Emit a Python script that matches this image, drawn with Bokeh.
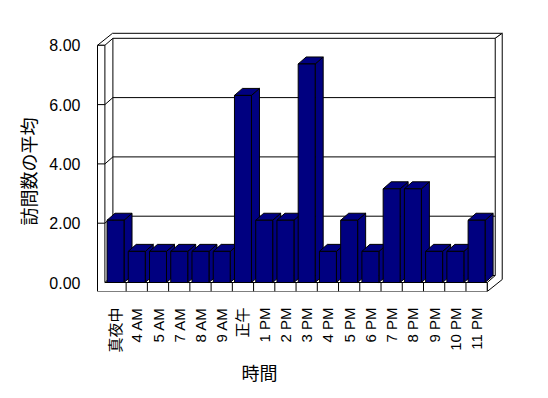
import numpy as np
from math import pi
from bokeh.plotting import figure
from bokeh.models import Range1d, FixedTicker, PrintfTickFormatter, Title
from bokeh.embed import file_html
from bokeh.resources import INLINE

# ---- data ----
categories = ["真夜中", "4 AM", "5 AM", "7 AM", "8 AM", "9 AM", "正午", "1 PM", "2 PM",
              "3 PM", "4 PM", "5 PM", "6 PM", "7 PM", "8 PM", "9 PM", "10 PM", "11 PM"]
visits = [2.1, 1.05, 1.05, 1.05, 1.05, 1.05, 6.31, 2.1, 2.1,
          7.37, 1.05, 2.1, 1.05, 3.16, 3.16, 1.05, 1.05, 2.1]
y_ticks = [0, 2, 4, 6, 8]
x_title = "時間"
y_title = "訪問数の平均"

# ---- geometry (pixels per data unit, 3-D offsets) ----
PX_X = 21.24
PX_Y = 29.65
DX, DY = 8 / PX_X, 7 / PX_Y        # depth of the plot box
TX, TY = 7 / PX_X, 5 / PX_Y        # back wall thickness
WL = 7.4 / PX_X                    # left wall thickness
FT = 9 / PX_Y                      # floor thickness
n = len(categories)
L, R = -0.5, n - 0.5
TOP, BOT = y_ticks[-1], -FT
XL = L - WL
BAR_W = 0.8
NAVY = "#000080"
FONT = "Liberation Sans, Noto Sans CJK JP"

p = figure(width=548, height=398, output_backend="svg", toolbar_location=None,
           x_range=Range1d(L - 14.4 / PX_X, L + 405.6 / PX_X),
           y_range=Range1d(-9 / PX_Y, 252 / PX_Y),
           min_border_left=90, min_border_right=38, min_border_top=30, min_border_bottom=107)
p.outline_line_color = None
p.grid.visible = False
p.background_fill_color = "white"
p.border_fill_color = "white"

# ---- walls and floor ----
p.patch([XL, L, L + DX, R + DX, R + DX + TX, XL + DX + TX],
        [TOP, TOP, TOP + DY, TOP + DY, TOP + DY + TY, TOP + DY + TY],
        fill_color="white", line_color="black", line_width=1)
p.patch([R + DX, R + DX + TX, R + DX + TX, R, R, R + DX],
        [TOP + DY, TOP + DY + TY, BOT + DY + TY, BOT, 0, DY],
        fill_color="white", line_color="black", line_width=1)
p.patch([XL, L, L, R, R, XL], [TOP, TOP, 0, 0, BOT, BOT],
        fill_color="white", line_color="black", line_width=1)

gv = np.array([v for v in y_ticks if v != TOP], dtype=float)
p.segment(x0=[L + DX] * len(gv), y0=gv + DY, x1=[R + DX] * len(gv), y1=gv + DY,
          line_color="black", line_width=1)
p.segment(x0=[L] * len(gv), y0=gv, x1=[L + DX] * len(gv), y1=gv + DY,
          line_color="black", line_width=1)
gv2 = gv[gv > 0]
p.segment(x0=[XL] * len(gv2), y0=gv2, x1=[L] * len(gv2), y1=gv2,
          line_color="black", line_width=1)
p.segment(x0=[L + DX], y0=[DY], x1=[L + DX], y1=[TOP + DY], line_color="black", line_width=1)
kb = np.arange(1, n) - 0.5
p.segment(x0=kb, y0=[BOT] * len(kb), x1=kb, y1=[0] * len(kb), line_color="black", line_width=1)

# ---- 3-D bars (side, top, front per bar, left to right) ----
xs, ys = [], []
for i, v in enumerate(visits):
    l, r = i - BAR_W / 2, i + BAR_W / 2
    xs.append([r, r + DX, r + DX, r]); ys.append([0, DY, v + DY, v])
    xs.append([l, r, r + DX, l + DX]); ys.append([v, v, v + DY, v + DY])
    xs.append([l, r, r, l]); ys.append([0, 0, v, v])
p.patches(xs, ys, fill_color=NAVY, line_color="black", line_width=1)

# ---- axes ----
yax = p.yaxis[0]
yax.ticker = FixedTicker(ticks=y_ticks)
yax.formatter = PrintfTickFormatter(format="%.2f")
yax.axis_line_color = None
yax.major_tick_line_color = None
yax.minor_tick_line_color = None
yax.major_label_standoff = 4
yax.major_label_text_font = FONT
yax.major_label_text_font_size = "16px"
yax.major_label_text_color = "black"

xax = p.xaxis[0]
xax.ticker = FixedTicker(ticks=list(range(n)))
xax.major_label_overrides = {i: c for i, c in enumerate(categories)}
xax.major_label_orientation = pi / 2
xax.axis_line_color = None
xax.major_tick_line_color = None
xax.minor_tick_line_color = None
xax.major_label_standoff = 10
xax.major_label_text_font = FONT
xax.major_label_text_font_size = "15px"
xax.major_label_text_color = "black"

p.add_layout(Title(text=x_title, align="left", offset=151, standoff=13,
                   text_font=FONT, text_font_size="18px", text_font_style="normal",
                   text_color="black"), "below")
p.add_layout(Title(text=y_title, align="left", offset=66, standoff=14,
                   text_font=FONT, text_font_size="18px", text_font_style="normal",
                   text_color="black"), "left")

open("out.html", "w").write(file_html(p, INLINE))
